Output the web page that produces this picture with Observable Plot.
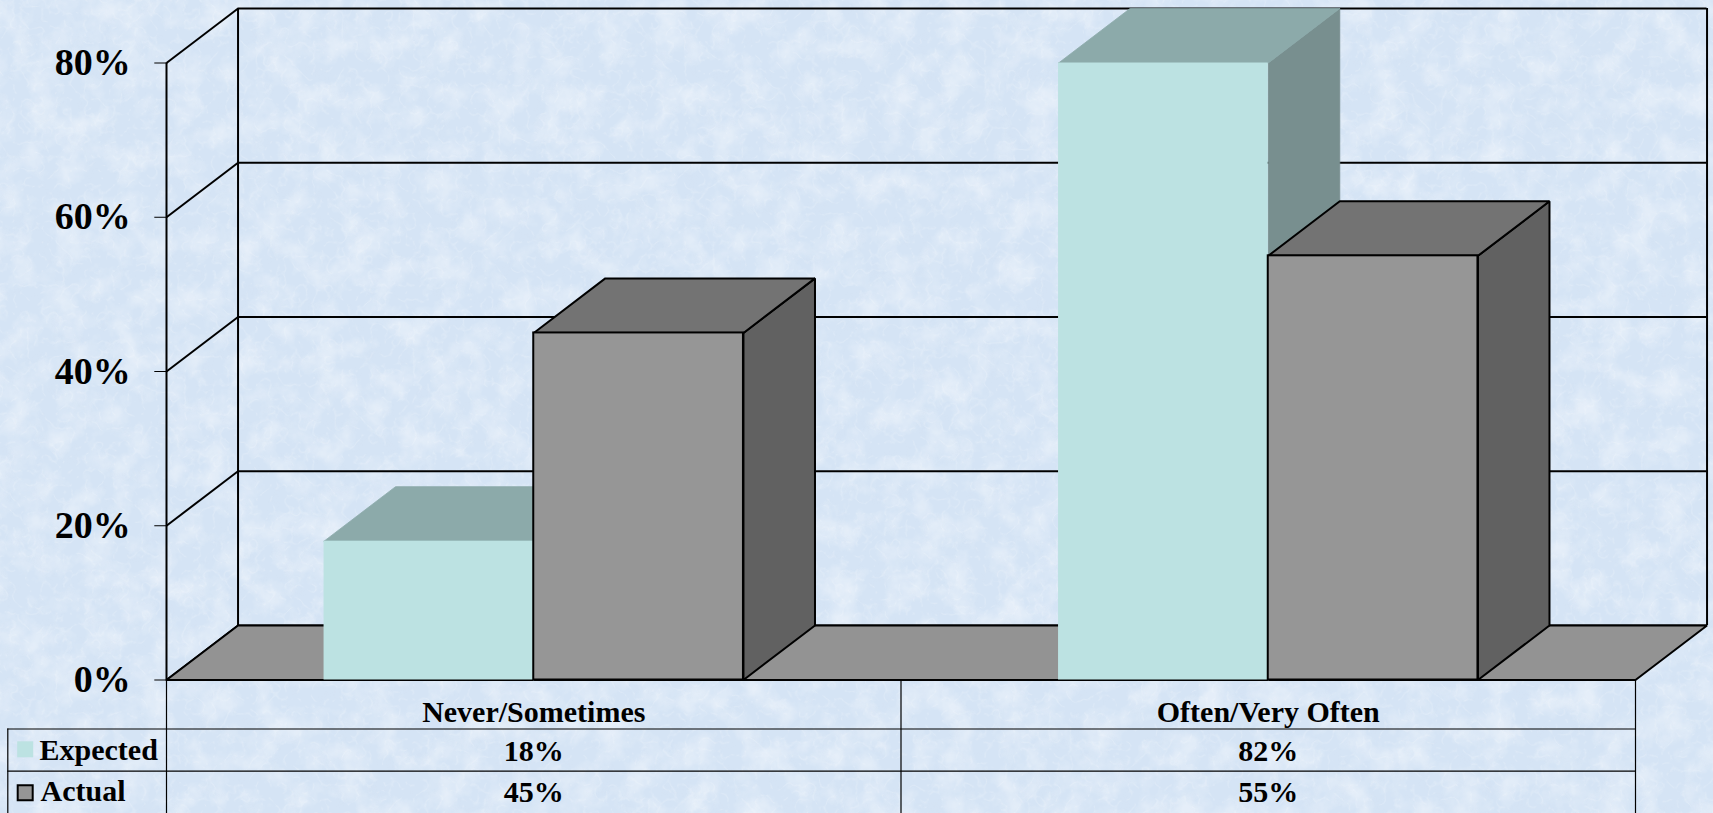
<!DOCTYPE html>
<html>
<head>
<meta charset="utf-8">
<script src="https://cdn.jsdelivr.net/npm/d3@7"></script>
<script src="https://cdn.jsdelivr.net/npm/@observablehq/plot@0.6"></script>
<style>
  html, body { margin: 0; padding: 0; overflow: hidden; }
  body { background-color: #d8e6f5; width: 1713px; height: 813px; }
  #chart svg { display: block; }
</style>
</head>
<body>
<div id="chart"></div>
<script>
// ---- data ----
const categories = ["Never/Sometimes", "Often/Very Often"];
const series = ["Expected", "Actual"];
const expected = [18, 82];
const actual = [45, 55];
const yTicks = [0, 20, 40, 60, 80];

// ---- style ----
const frontColors = ["#bce2e2", "#969696"];
const topColors = ["#8caaaa", "#737373"];
const sideColors = ["#788f8f", "#616161"];
const floorColor = "#939393";

// background texture (inline SVG, no network)
const tex = `<svg xmlns="http://www.w3.org/2000/svg" width="1713" height="813">
<filter id="a" x="0" y="0" width="100%" height="100%"><feTurbulence type="fractalNoise" baseFrequency="0.035" numOctaves="4" seed="7"/><feColorMatrix values="0 0 0 0 1 0 0 0 0 1 0 0 0 0 1 0 0 0 -2.2 1.3"/></filter>
<filter id="b" x="0" y="0" width="100%" height="100%"><feTurbulence type="turbulence" baseFrequency="0.07" numOctaves="2" seed="3"/><feColorMatrix values="0 0 0 0 1 0 0 0 0 1 0 0 0 0 1 0 0 0 -5 0.75"/></filter>
<filter id="c" x="0" y="0" width="100%" height="100%"><feTurbulence type="fractalNoise" baseFrequency="0.06" numOctaves="2" seed="11"/><feColorMatrix values="0 0 0 0 0.66 0 0 0 0 0.75 0 0 0 0 0.88 0 0 0 3 -1.7"/></filter>
<rect width="100%" height="100%" fill="#d5e4f5"/>
<rect width="100%" height="100%" filter="url(#a)" opacity="0.4"/>
<rect width="100%" height="100%" filter="url(#b)" opacity="0.25"/>
<rect width="100%" height="100%" filter="url(#c)" opacity="0.15"/>
</svg>`;
document.body.style.backgroundImage = `url("data:image/svg+xml,${encodeURIComponent(tex)}")`;

// ---- geometry in data units ----
const nCat = categories.length;
const yMax = 80;
const barW = 0.2855;     // bar width in category units (gap width 150%)
const kx = 0.0974;       // depth offset along x (category units)
const ky = 7.07;         // depth offset along y (percent units)

const bars = [];
categories.forEach((c, i) => {
  [expected, actual].forEach((vals, s) => {
    const x1 = i + 0.5 + (s - 1) * barW;
    bars.push({cat: c, s, x1, x2: x1 + barW, v: Math.min(vals[i], yMax)});
  });
});

const faces = [];
bars.forEach((b, j) => {
  const side = [[b.x2, 0], [b.x2, b.v], [b.x2 + kx, b.v + ky], [b.x2 + kx, ky], [b.x2, 0]];
  const top = [[b.x1, b.v], [b.x2, b.v], [b.x2 + kx, b.v + ky], [b.x1 + kx, b.v + ky], [b.x1, b.v]];
  side.forEach(([x, y]) => faces.push({id: "side" + j, s: b.s, x, y, fill: sideColors[b.s]}));
  top.forEach(([x, y]) => faces.push({id: "top" + j, s: b.s, x, y, fill: topColors[b.s]}));
});

const floorPts = [[0, 0], [nCat, 0], [nCat + kx, ky], [kx, ky], [0, 0]].map(([x, y]) => ({x, y}));

const serif = "'Liberation Serif', 'Times New Roman', serif";

const chart = Plot.plot({
  width: 1713,
  height: 813,
  marginLeft: 166,
  marginRight: 78,
  marginTop: 62.5,
  marginBottom: 133.5,
  x: {domain: [0, nCat], axis: null},
  y: {domain: [0, yMax]},
  color: {type: "identity"},
  style: {background: "transparent", fontFamily: serif, fontWeight: "bold", color: "black", overflow: "visible"},
  marks: [
    // back wall gridlines and border
    Plot.ruleY(yTicks, {y: d => d + ky, x1: kx, x2: nCat + kx, stroke: "black", strokeWidth: 2}),
    Plot.ruleX([kx, nCat + kx], {x: d => d, y1: ky, y2: yMax + ky, stroke: "black", strokeWidth: 2}),
    // left side wall
    Plot.link(yTicks, {x1: () => 0, y1: d => d, x2: () => kx, y2: d => d + ky, stroke: "black", strokeWidth: 2}),
    Plot.ruleX([0], {y1: 0, y2: yMax, stroke: "black", strokeWidth: 2}),
    // floor
    Plot.line(floorPts, {x: "x", y: "y", fill: floorColor, stroke: "black", strokeWidth: 2, strokeLinejoin: "miter"}),
    // bar side and top faces
    Plot.line(faces.filter(f => f.s === 0), {x: "x", y: "y", z: "id", fill: "fill", stroke: "fill", strokeWidth: 0.8}),
    Plot.line(faces.filter(f => f.s === 1), {x: "x", y: "y", z: "id", fill: "fill", stroke: "black", strokeWidth: 2, strokeLinejoin: "miter"}),
    // bar front faces
    Plot.rect(bars.filter(b => b.s === 0), {x1: "x1", x2: "x2", y1: () => 0, y2: "v", fill: frontColors[0]}),
    Plot.rect(bars.filter(b => b.s === 1), {x1: "x1", x2: "x2", y1: () => 0, y2: "v", fill: frontColors[1], stroke: "black", strokeWidth: 2}),
    // y axis
    Plot.axisY({ticks: yTicks, tickFormat: d => `${d}%`, tickSize: 11.7, tickPadding: 24, fontSize: 38, fontWeight: "bold", label: null}),
    // data table lines
    Plot.ruleX([0, 1, 2], {x: d => d, y1: () => 0, y2: () => 0, insetBottom: -133.5, stroke: "black", strokeWidth: 1.2}),
    Plot.ruleX([0], {x: d => d, y1: () => 0, y2: () => 0, dx: -158.7, insetTop: 49, insetBottom: -133.5, stroke: "black", strokeWidth: 1.2}),
    Plot.ruleY([0], {y: d => d, x1: () => 0, x2: () => nCat, dy: 49, insetLeft: -158.7, stroke: "black", strokeWidth: 1.2}),
    Plot.ruleY([0], {y: d => d, x1: () => 0, x2: () => nCat, dy: 91.2, insetLeft: -158.7, stroke: "black", strokeWidth: 1.2}),
    // data table texts
    Plot.text(categories, {x: (d, i) => i + 0.5, y: () => 0, text: d => d, dy: 42.2, lineAnchor: "bottom", fontSize: 30, fontWeight: "bold"}),
    Plot.text(expected, {x: (d, i) => i + 0.5, y: () => 0, text: d => `${d}%`, dy: 80.5, lineAnchor: "bottom", fontSize: 30, fontWeight: "bold"}),
    Plot.text(actual, {x: (d, i) => i + 0.5, y: () => 0, text: d => `${d}%`, dy: 122.2, lineAnchor: "bottom", fontSize: 30, fontWeight: "bold"}),
    // legend keys in the table
    Plot.dot([series[0]], {x: () => 0, y: () => 0, dx: -141.3, dy: 69.3, symbol: "square", r: 9.03, fill: frontColors[0], stroke: "none"}),
    Plot.dot([series[1]], {x: () => 0, y: () => 0, dx: -141.3, dy: 112.8, symbol: "square", r: 8.46, fill: frontColors[1], stroke: "black", strokeWidth: 2}),
    Plot.text([series[0]], {x: () => 0, y: () => 0, text: d => d, dx: -127, dy: 79.5, textAnchor: "start", lineAnchor: "bottom", fontSize: 30, fontWeight: "bold"}),
    Plot.text([series[1]], {x: () => 0, y: () => 0, text: d => d, dx: -126, dy: 121.2, textAnchor: "start", lineAnchor: "bottom", fontSize: 30, fontWeight: "bold"})
  ]
});
document.getElementById("chart").appendChild(chart);
</script>
</body>
</html>
